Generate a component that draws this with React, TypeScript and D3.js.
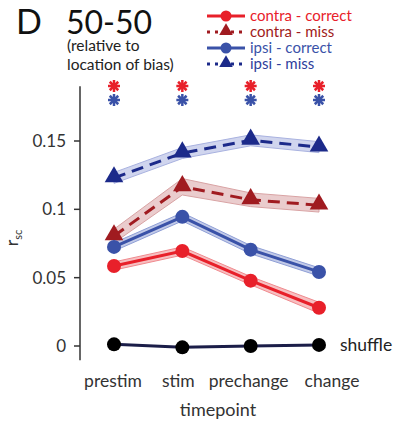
import { useEffect, useRef } from "react"
import * as d3 from "d3"

// categorías y series
const categorias = ["prestim", "stim", "prechange", "change"]
const contraCorrect = [0.0585, 0.0695, 0.0478, 0.028]
const contraMiss = [0.0805, 0.1165, 0.107, 0.103]
const ipsiCorrect = [0.0725, 0.0945, 0.0705, 0.0542]
const ipsiMiss = [0.123, 0.1412, 0.1505, 0.1455]
const shuffle = [0.0012, -0.001, 0.0, 0.0008]
// semiancho de la banda sombreada
const errContraCorrect = [0.003, 0.003, 0.003, 0.004]
const errContraMiss = [0.005, 0.006, 0.005, 0.005]
const errIpsiCorrect = [0.003, 0.003, 0.003, 0.003]
const errIpsiMiss = [0.004, 0.004, 0.004, 0.004]
const yTicks = [0, 0.05, 0.1, 0.15]
const yTickLabels = ["0", "0.05", "0.1", "0.15"]

const FONT = "Lato, 'Open Sans', sans-serif"

export default function App() {
  const svgRef = useRef<SVGSVGElement>(null)

  useEffect(() => {
    if (!svgRef.current) return
    const svg = d3.select(svgRef.current)
    svg.selectAll("*").remove()

    const x = d3.scalePoint<string>().domain(categorias).range([114, 319])
    const y = d3.scaleLinear().domain([0, 0.15]).range([346, 141])

    const series = [
      { name: "contra - correct", vals: contraCorrect, err: errContraCorrect, color: "#e8202a", text: "#e8202a", band: "#f08a8e", shape: "circle", dash: null },
      { name: "contra - miss", vals: contraMiss, err: errContraMiss, color: "#a01b20", text: "#a01b20", band: "#d9a3a4", shape: "triangle", dash: "12,7" },
      { name: "ipsi - correct", vals: ipsiCorrect, err: errIpsiCorrect, color: "#3a52a8", text: "#3a52a8", band: "#8f9fd6", shape: "circle", dash: null },
      { name: "ipsi - miss", vals: ipsiMiss, err: errIpsiMiss, color: "#1c2a8a", text: "#2f409c", band: "#a9b2e0", shape: "triangle", dash: "12,7" },
    ]

    // eje y
    const axis = svg.append("g").attr("transform", "translate(80,0)")
    axis.append("line").attr("x1", 0).attr("x2", 0).attr("y1", y(0.19)).attr("y2", y(-0.0105))
      .attr("stroke", "#333").attr("stroke-width", 1.5)
    yTicks.forEach((t, i) => {
      axis.append("line").attr("x1", -6).attr("x2", 0).attr("y1", y(t)).attr("y2", y(t))
        .attr("stroke", "#333").attr("stroke-width", 1.5)
      axis.append("text").attr("x", -14).attr("y", y(t)).attr("dy", "0.36em")
        .attr("text-anchor", "end").style("font-family", FONT).style("font-size", "17px")
        .attr("fill", "#333").text(yTickLabels[i])
    })

    // etiqueta y
    const yl = svg.append("text").attr("transform", "translate(18,238) rotate(-90)")
      .attr("text-anchor", "middle").style("font-family", FONT).style("font-size", "18px").attr("fill", "#333")
    yl.append("tspan").text("r")
    yl.append("tspan").attr("dy", 4).style("font-size", "11px").text("sc")

    // etiquetas x (algo desplazadas como en el original)
    const desplaz: Record<string, number> = { prestim: -1, stim: -4, prechange: -2, change: 13 }
    categorias.forEach((c) => {
      svg.append("text").attr("x", x(c)! + desplaz[c]).attr("y", 387).attr("text-anchor", "middle")
        .style("font-family", FONT).style("font-size", "17.5px").attr("fill", "#333").text(c)
    })
    svg.append("text").attr("x", 218).attr("y", 416).attr("text-anchor", "middle")
      .style("font-family", FONT).style("font-size", "18px").attr("fill", "#333").text("timepoint")

    const tri = d3.symbol().type(d3.symbolTriangle).size(150)

    // bandas
    series.forEach((s) => {
      const area = d3.area<number>()
        .x((_, i) => x(categorias[i])!)
        .y0((d, i) => y(d - s.err[i]))
        .y1((d, i) => y(d + s.err[i]))
      svg.append("path").attr("d", area(s.vals)).attr("fill", s.band).attr("fill-opacity", 0.55)
        .attr("stroke", s.band).attr("stroke-width", 1)
    })

    // línea shuffle
    const line = d3.line<number>().x((_, i) => x(categorias[i])!).y((d) => y(d))
    svg.append("path").attr("d", line(shuffle)).attr("fill", "none").attr("stroke", "#1b1d48").attr("stroke-width", 3)
    shuffle.forEach((v, i) => {
      svg.append("circle").attr("cx", x(categorias[i])!).attr("cy", y(v)).attr("r", 7).attr("fill", "#000")
    })
    svg.append("text").attr("x", 340).attr("y", y(0.0008)).attr("dy", "0.35em")
      .style("font-family", FONT).style("font-size", "17.5px").attr("fill", "#222").text("shuffle")

    series.forEach((s) => {
      svg.append("path").attr("d", line(s.vals)).attr("fill", "none").attr("stroke", s.color)
        .attr("stroke-width", 3).attr("stroke-dasharray", s.dash)
      s.vals.forEach((v, i) => {
        if (s.shape === "circle") {
          svg.append("circle").attr("cx", x(categorias[i])!).attr("cy", y(v)).attr("r", 7).attr("fill", s.color)
        } else {
          svg.append("path").attr("d", tri()).attr("transform", `translate(${x(categorias[i])},${y(v) - 1})`).attr("fill", s.color)
        }
      })
    })

    // asteriscos
    const estrella = (cx: number, cy: number, color: string) => {
      const g = svg.append("g").attr("transform", `translate(${cx},${cy})`)
      for (let k = 0; k < 4; k++) {
        const a = (k * Math.PI) / 4
        g.append("line").attr("x1", -6 * Math.cos(a)).attr("y1", -6 * Math.sin(a))
          .attr("x2", 6 * Math.cos(a)).attr("y2", 6 * Math.sin(a))
          .attr("stroke", color).attr("stroke-width", 2.5)
      }
    }
    categorias.forEach((c) => {
      estrella(x(c)!, 86, "#e8202a")
      estrella(x(c)!, 100, "#3a52a8")
    })

    // título
    svg.append("text").attr("x", 16).attr("y", 34).style("font-family", FONT).style("font-size", "34px").attr("fill", "#111").text("D")
    svg.append("text").attr("x", 66).attr("y", 34).style("font-family", FONT).style("font-size", "32px").attr("fill", "#111").text("50-50")
    svg.append("text").attr("x", 67).attr("y", 51).style("font-family", FONT).style("font-size", "15.5px").attr("fill", "#222").text("(relative to")
    svg.append("text").attr("x", 67).attr("y", 70).style("font-family", FONT).style("font-size", "15.5px").attr("fill", "#222").text("location of bias)")

    // leyenda
    series.forEach((s, i) => {
      const cy = 16 + i * 16
      const g = svg.append("g")
      g.append("line").attr("x1", 207).attr("x2", 245).attr("y1", cy).attr("y2", cy)
        .attr("stroke", s.color).attr("stroke-width", 3).attr("stroke-dasharray", s.dash ? "3,5" : null)
      if (s.shape === "circle") {
        g.append("circle").attr("cx", 226).attr("cy", cy).attr("r", 5.5).attr("fill", s.color)
      } else {
        g.append("path").attr("d", d3.symbol().type(d3.symbolTriangle).size(80)()).attr("transform", `translate(226,${cy - 1})`).attr("fill", s.color)
      }
      g.append("text").attr("x", 250).attr("y", cy).attr("dy", "0.33em")
        .style("font-family", FONT).style("font-size", "15px").attr("fill", s.text).text(s.name)
    })
  }, [])

  return <svg ref={svgRef} width={396} height={427} style={{ display: "block", position: "absolute", left: 0, top: 0, background: "#fff" }} />
}
